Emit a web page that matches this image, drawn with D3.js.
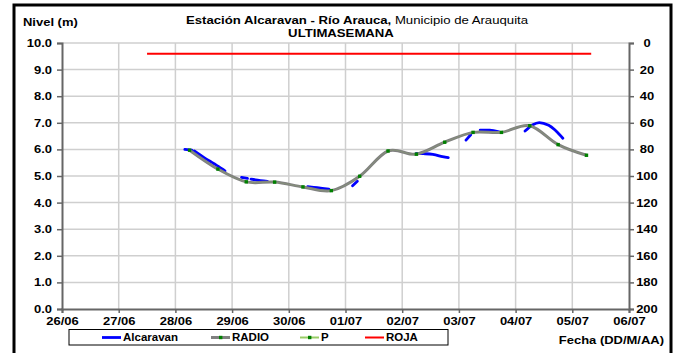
<!DOCTYPE html>
<html><head><meta charset="utf-8">
<script src="https://cdn.jsdelivr.net/npm/d3@7"></script>
<style>body{margin:0;background:#fff}svg{display:block;font-family:"Liberation Sans",Arial,sans-serif}</style>
</head><body><svg id="c" width="678" height="353"></svg>
<script>
// ---- data ----
const xTickLabels = ["26/06","27/06","28/06","29/06","30/06","01/07","02/07","03/07","04/07","05/07","06/07"];
const leftTicks = [0,1,2,3,4,5,6,7,8,9,10];
const rightTicks = [0,20,40,60,80,100,120,140,160,180,200];

const radioTimes = ["2014-06-28T06:00","2014-06-28T18:00","2014-06-29T06:00","2014-06-29T18:00",
  "2014-06-30T06:00","2014-06-30T18:00","2014-07-01T06:00","2014-07-01T18:00",
  "2014-07-02T06:00","2014-07-02T18:00","2014-07-03T06:00","2014-07-03T18:00",
  "2014-07-04T06:00","2014-07-04T18:00","2014-07-05T06:00"];
const radioValues = [5.97,5.26,4.78,4.77,4.59,4.45,4.99,5.94,5.82,6.27,6.64,6.64,6.89,6.18,5.78];
const pValues = [5.97,5.26,4.78,4.77,4.59,4.45,4.99,5.94,5.82,6.27,6.64,6.64,6.89,6.18,5.78];

const alcTimes = ["2014-06-28T04:00","2014-06-28T07:00","2014-06-28T07:30",
  "2014-06-28T08:00","2014-06-28T12:00","2014-06-28T16:00","2014-06-28T20:00","2014-06-28T21:00","2014-06-28T23:00",
  "2014-06-29T04:00","2014-06-29T06:30","2014-06-29T07:15",
  "2014-06-29T08:00","2014-06-29T12:00","2014-06-29T15:00","2014-06-29T20:00",
  "2014-06-30T08:00","2014-06-30T12:00","2014-06-30T17:00","2014-06-30T22:00",
  "2014-07-01T03:00","2014-07-01T05:00","2014-07-01T12:00",
  "2014-07-02T06:00","2014-07-02T09:00","2014-07-02T13:00","2014-07-02T17:00","2014-07-02T19:30","2014-07-02T23:00",
  "2014-07-03T03:00","2014-07-03T05:00","2014-07-03T07:00",
  "2014-07-03T09:00","2014-07-03T13:00","2014-07-03T17:00","2014-07-03T22:00",
  "2014-07-04T04:00","2014-07-04T07:00","2014-07-04T10:00","2014-07-04T14:00","2014-07-04T17:00","2014-07-04T20:00"];
const alcValues = [6.00,5.97,null,
  5.94,5.70,5.48,5.26,5.19,null,
  4.95,4.91,null,
  4.88,4.83,4.80,null,
  4.60,4.56,4.51,null,
  4.63,4.80,null,
  5.85,5.84,5.81,5.73,5.69,null,
  6.35,6.55,null,
  6.72,6.72,6.66,null,
  6.69,6.91,7.01,6.91,6.70,6.42];

const rojaTimes = ["2014-06-27T12:00","2014-07-05T08:00"];
const rojaValues = [9.6,9.6];

const legendItems = ["Alcaravan","RADIO","P","ROJA"];

// ---- drawing ----
const svg = d3.select("#c");
const L = 62, R = 629, T = 43, B = 309;
const parse = d3.isoParse;
const x = d3.scaleTime().domain([new Date(2014,5,26), new Date(2014,6,6)]).range([L,R]);
const y = d3.scaleLinear().domain([0,10]).range([B,T]);
const y2 = d3.scaleLinear().domain([200,0]).range([B,T]);
const xTickDates = d3.timeDay.range(new Date(2014,5,26), new Date(2014,6,7));
const FONT = "'Liberation Sans',Arial,sans-serif";
const K = 1.18; // horizontal text stretch

// outer border
svg.append("rect").attr("x",14).attr("y",5).attr("width",657).attr("height",360)
  .attr("fill","none").attr("stroke","#000").attr("stroke-width",3);

// gridlines
svg.append("g").selectAll("line").data(xTickDates.slice(1,-1)).join("line")
  .attr("x1",d=>x(d)).attr("x2",d=>x(d)).attr("y1",T).attr("y2",B)
  .attr("stroke","#cfcfcf").attr("stroke-width",1.5);
svg.append("g").selectAll("line").data(leftTicks.slice(1)).join("line")
  .attr("x1",L).attr("x2",R).attr("y1",d=>y(d)).attr("y2",d=>y(d))
  .attr("stroke","#cfcfcf").attr("stroke-width",1.5);

// axes
const axisColor = "#666";
const gl = svg.append("g").attr("transform",`translate(${L},0)`)
  .call(d3.axisLeft(y).tickValues(leftTicks).tickFormat(d3.format(".1f")).tickSize(5).tickPadding(5));
const gr = svg.append("g").attr("transform",`translate(${R},0)`)
  .call(d3.axisRight(y2).tickValues(rightTicks).tickSize(5).tickPadding(4));
const gb = svg.append("g").attr("transform",`translate(0,${B})`)
  .call(d3.axisBottom(x).tickValues(xTickDates).tickFormat((d,i)=>xTickLabels[i]).tickSize(4).tickPadding(4));
gr.selectAll("text").attr("text-anchor","middle").attr("x",18);
[gl,gr,gb].forEach(g=>{
  g.select(".domain").attr("stroke",axisColor).attr("stroke-width",2);
  g.selectAll(".tick line").attr("stroke",axisColor).attr("stroke-width",1.5);
  g.selectAll("text").attr("font-size",11).attr("font-weight","bold").attr("fill","#000")
    .attr("font-family",FONT)
    .each(function(){ const t=d3.select(this); const x0=+t.attr("x")||0;
      t.attr("x",x0/K).attr("transform",`scale(${K},1)`); });
});

// series
const smooth = d3.curveCatmullRom.alpha(0);
const radio = radioTimes.map((t,i)=>({t:parse(t),v:radioValues[i]}));
const pdat = radioTimes.map((t,i)=>({t:parse(t),v:pValues[i]}));
const alc = alcTimes.map((t,i)=>({t:parse(t),v:alcValues[i]}));
const roja = rojaTimes.map((t,i)=>({t:parse(t),v:rojaValues[i]}));
const line = d3.line().defined(d=>d.v!=null).x(d=>x(d.t)).y(d=>y(d.v)).curve(smooth);

svg.append("path").datum(roja).attr("d",d3.line().x(d=>x(d.t)).y(d=>y(d.v)))
  .attr("fill","none").attr("stroke","#ff0000").attr("stroke-width",2);
svg.append("path").datum(alc).attr("d",line)
  .attr("fill","none").attr("stroke","#0000ff").attr("stroke-width",2.8).attr("stroke-linecap","round");
svg.append("path").datum(radio).attr("d",line)
  .attr("fill","none").attr("stroke","#808080").attr("stroke-width",3);
svg.append("path").datum(pdat).attr("d",line)
  .attr("fill","none").attr("stroke","#99cc66").attr("stroke-width",0.6).attr("opacity",0.4);
svg.append("g").selectAll("rect").data(pdat).join("rect")
  .attr("x",d=>x(d.t)-1.7).attr("y",d=>y(d.v)-1.7).attr("width",3.4).attr("height",3.4)
  .attr("fill","#008000");

// stretched text helper
function label(X,Y,k,size,anchor){
  return svg.append("text").attr("transform",`translate(${X},${Y}) scale(${k},1)`)
    .attr("text-anchor",anchor).attr("font-size",size).attr("fill","#000");
}
// titles
const t1 = label(357,24,1.22,10.8,"middle");
t1.append("tspan").attr("font-weight","bold").text("Estación Alcaravan - Río Arauca,");
t1.append("tspan").text(" Municipio de Arauquita");
label(341,37,1.22,10.8,"middle").attr("font-weight","bold").text("ULTIMASEMANA");
label(23,25.5,K,11,"start").attr("font-weight","bold").text("Nivel (m)");
label(664,343.5,K,11,"end").attr("font-weight","bold").text("Fecha (DD/M/AA)");

// legend
const lg = svg.append("g");
lg.append("rect").attr("x",69).attr("y",329.5).attr("width",379).attr("height",15.5)
  .attr("fill","#fff").attr("stroke","#000").attr("stroke-width",1);
const lx = [102,211,300,365];
const ly = 337.5;
const lcol = ["#0000ff","#808080","#99cc66","#ff0000"];
const lw = [2.8,3,2,2];
legendItems.forEach((name,i)=>{
  lg.append("line").attr("x1",lx[i]).attr("x2",lx[i]+19).attr("y1",ly).attr("y2",ly)
    .attr("stroke",lcol[i]).attr("stroke-width",lw[i]);
  if(i===1||i===2) lg.append("rect").attr("x",lx[i]+8).attr("y",ly-1.7).attr("width",3.4).attr("height",3.4).attr("fill","#008000");
  lg.append("text").attr("transform",`translate(${lx[i]+21},${ly+3.6}) scale(1.15,1)`)
    .attr("font-size",10).attr("font-weight","bold").text(name);
});
</script></body></html>
